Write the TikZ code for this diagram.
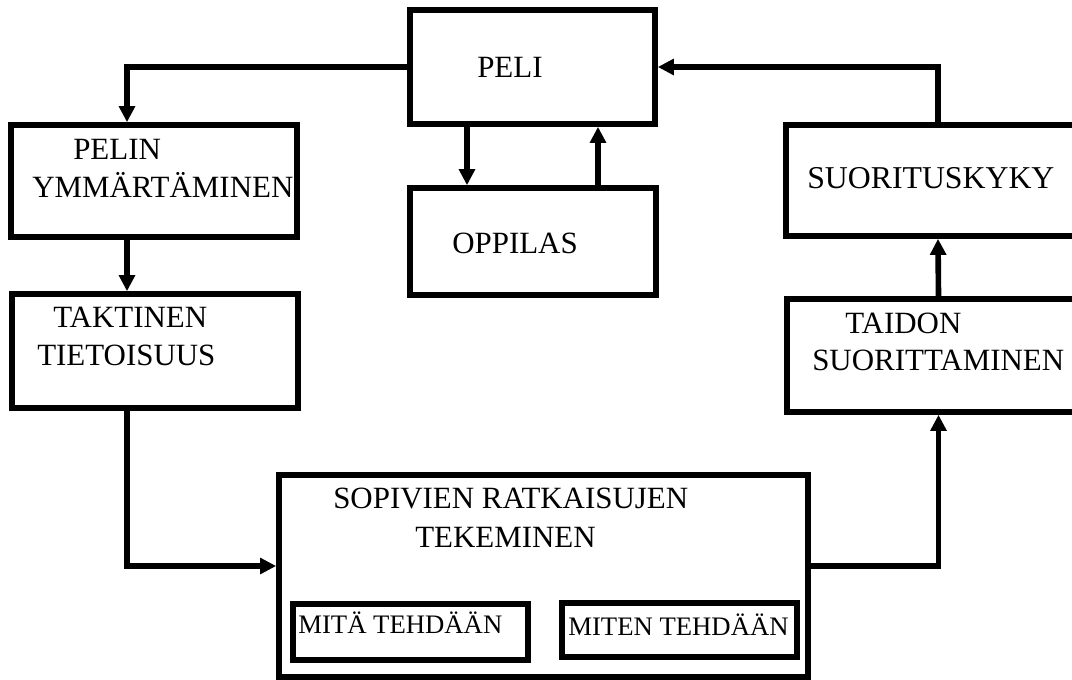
\documentclass[tikz,border=0pt]{standalone}
\usepackage{fontspec}
\setmainfont{Liberation Serif}
\usepackage{tikz}
\usetikzlibrary{arrows.meta,positioning,calc}

\begin{document}
\begin{tikzpicture}[x=0.025cm,y=-0.025cm]
% Boxes and arrows

   \tikzstyle{blk} = [draw, shape=rectangle, line width=4pt, inner sep=0pt]
   \tikzstyle{txt} = [anchor=base west, inner sep=0pt, font=\fontsize{22}{27}\selectfont]
   \tikzstyle{small} = [anchor=base west, inner sep=0pt, font=\fontsize{19}{23}\selectfont]
   \tikzstyle{arr} = [line width=4pt, -{Triangle[length=4mm,width=3.9mm]}]

\useasboundingbox (0,0) rectangle (1072,679);

\node[blk, minimum width=6.125cm, minimum height=2.85cm] (peli) at (532.5,67) {};
\node[blk, minimum width=6.15cm, minimum height=2.675cm] (oppilas) at (533,241.5) {};
\node[blk, minimum width=7.15cm, minimum height=2.8cm] (pelin) at (154,181) {};
\node[blk, minimum width=7.15cm, minimum height=2.85cm] (taktinen) at (155,351) {};
\node[blk, minimum width=13.225cm, minimum height=5.05cm] (sopivien) at (543.5,576) {};
\node[blk, minimum width=5.875cm, minimum height=1.4cm] (mita) at (410.5,632) {};
\node[blk, minimum width=5.875cm, minimum height=1.35cm] (miten) at (679.5,630) {};
\node[blk, minimum width=7.6cm, minimum height=2.775cm] (suoritus) at (938,180.5) {};
\node[blk, minimum width=7.575cm, minimum height=2.825cm] (taidon) at (938.5,355.5) {};

\node[txt] (tpeli) at (477,77) {PELI};
\node[txt] (toppilas) at (452,253) {OPPILAS};
\node[txt] (tpelin) at (73,159) {PELIN};
\node[txt] (tymm) at (32,197) {YMMÄRTÄMINEN};
\node[txt] (ttakt) at (53,327) {TAKTINEN};
\node[txt] (ttiet) at (37,365) {TIETOISUUS};
\node[txt, font=\fontsize{22.6}{28}\selectfont] (tsuor) at (807,188) {SUORITUSKYKY};
\node[txt] (ttaid) at (845,333) {TAIDON};
\node[txt] (tsuoritt) at (812,370) {SUORITTAMINEN};
\node[txt] (tsop) at (333,508) {SOPIVIEN RATKAISUJEN};
\node[txt] (tteke) at (415,547) {TEKEMINEN};
\node[small] (tmita) at (298,633) {MITÄ TEHDÄÄN};
\node[small] (tmiten) at (568,635) {MITEN TEHDÄÄN};

\coordinate (lft) at (127,0);
\coordinate (dn) at (467,0);
\coordinate (up) at (598,0);
\coordinate (bot) at (0,566);

\draw[arr] (peli.west) -| (pelin.north -| lft);
\draw[arr] (pelin.south -| lft) -- (taktinen.north -| lft);
\draw[arr] (taktinen.south -| lft) |- (sopivien.west |- bot);
\draw[arr] (sopivien.east |- bot) -| (taidon.south);
\draw[arr] (taidon.north) -- (suoritus.south);
\draw[arr] (suoritus.north) |- (peli.east);
\draw[arr] (peli.south -| dn) -- (oppilas.north -| dn);
\draw[arr] (oppilas.north -| up) -- (peli.south -| up);
\end{tikzpicture}
\end{document}
